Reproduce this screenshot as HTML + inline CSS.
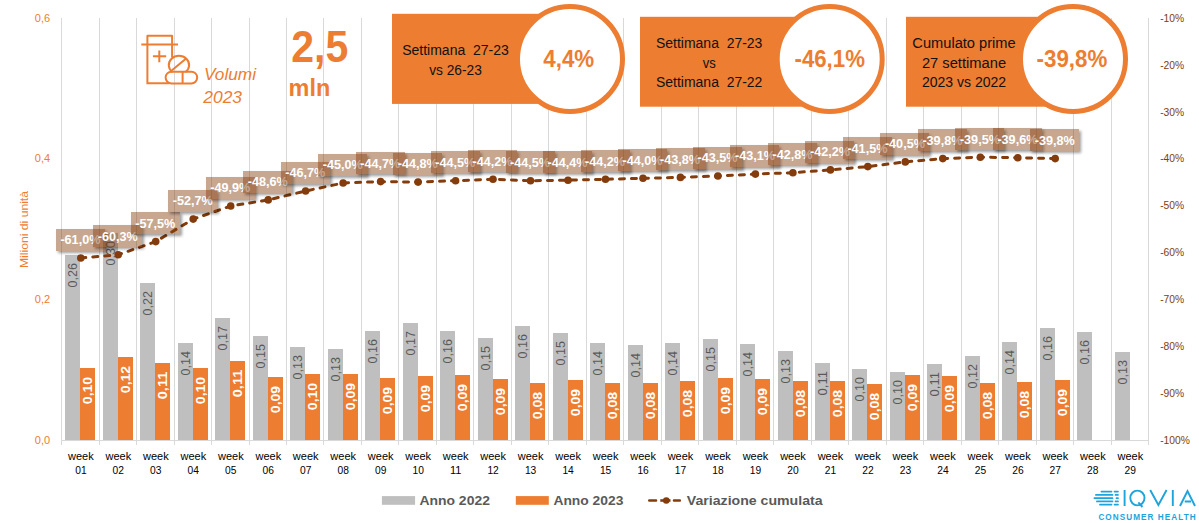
<!DOCTYPE html>
<html><head><meta charset="utf-8"><title>Volumi 2023</title>
<style>html,body{margin:0;padding:0;background:#fff}svg{display:block}text{font-family:"Liberation Sans",sans-serif}</style></head>
<body>
<svg width="1199" height="523" viewBox="0 0 1199 523">
<defs><filter id="sh" color-interpolation-filters="sRGB" x="-20%" y="-30%" width="150%" height="180%"><feComponentTransfer in="SourceAlpha" result="solid"><feFuncA type="linear" slope="20"/></feComponentTransfer><feGaussianBlur in="solid" stdDeviation="1.6"/><feOffset dx="2" dy="2"/><feComponentTransfer><feFuncA type="linear" slope="0.38"/></feComponentTransfer><feComposite operator="out" in2="solid" result="shadow"/><feMerge><feMergeNode in="shadow"/><feMergeNode in="SourceGraphic"/></feMerge></filter></defs>
<rect width="1199" height="523" fill="#fff"/>
<path d="M61.5 18.0V445M99.5 18.0V445M136.5 18.0V445M174.5 18.0V445M211.5 18.0V445M249.5 18.0V445M286.5 18.0V445M323.5 18.0V445M361.5 18.0V445M398.5 18.0V445M436.5 18.0V445M473.5 18.0V445M511.5 18.0V445M548.5 18.0V445M586.5 18.0V445M623.5 18.0V445M661.5 18.0V445M698.5 18.0V445M736.5 18.0V445M773.5 18.0V445M811.5 18.0V445M848.5 18.0V445M886.5 18.0V445M923.5 18.0V445M961.5 18.0V445M998.5 18.0V445M1036.5 18.0V445M1073.5 18.0V445M1111.5 18.0V445M1148.5 18.0V445M61 440.5H1149" stroke="#D9D9D9" stroke-width="1" fill="none"/>
<rect x="65.0" y="255.0" width="15" height="185.0" fill="#BFBFBF"/>
<rect x="80.0" y="368.0" width="15" height="72.0" fill="#ED7D31"/>
<rect x="103.0" y="233.0" width="15" height="207.0" fill="#BFBFBF"/>
<rect x="118.0" y="357.0" width="15" height="83.0" fill="#ED7D31"/>
<rect x="140.0" y="283.0" width="15" height="157.0" fill="#BFBFBF"/>
<rect x="155.0" y="363.0" width="15" height="77.0" fill="#ED7D31"/>
<rect x="178.0" y="343.0" width="15" height="97.0" fill="#BFBFBF"/>
<rect x="193.0" y="368.0" width="15" height="72.0" fill="#ED7D31"/>
<rect x="215.0" y="318.0" width="15" height="122.0" fill="#BFBFBF"/>
<rect x="230.0" y="361.0" width="15" height="79.0" fill="#ED7D31"/>
<rect x="253.0" y="336.0" width="15" height="104.0" fill="#BFBFBF"/>
<rect x="268.0" y="377.0" width="15" height="63.0" fill="#ED7D31"/>
<rect x="290.0" y="347.0" width="15" height="93.0" fill="#BFBFBF"/>
<rect x="305.0" y="374.0" width="15" height="66.0" fill="#ED7D31"/>
<rect x="328.0" y="349.0" width="15" height="91.0" fill="#BFBFBF"/>
<rect x="343.0" y="374.0" width="15" height="66.0" fill="#ED7D31"/>
<rect x="365.0" y="331.0" width="15" height="109.0" fill="#BFBFBF"/>
<rect x="380.0" y="378.0" width="15" height="62.0" fill="#ED7D31"/>
<rect x="403.0" y="323.0" width="15" height="117.0" fill="#BFBFBF"/>
<rect x="418.0" y="376.0" width="15" height="64.0" fill="#ED7D31"/>
<rect x="440.0" y="331.0" width="15" height="109.0" fill="#BFBFBF"/>
<rect x="455.0" y="375.0" width="15" height="65.0" fill="#ED7D31"/>
<rect x="478.0" y="338.0" width="15" height="102.0" fill="#BFBFBF"/>
<rect x="493.0" y="379.0" width="15" height="61.0" fill="#ED7D31"/>
<rect x="515.0" y="326.0" width="15" height="114.0" fill="#BFBFBF"/>
<rect x="530.0" y="383.0" width="15" height="57.0" fill="#ED7D31"/>
<rect x="553.0" y="333.0" width="15" height="107.0" fill="#BFBFBF"/>
<rect x="568.0" y="380.0" width="15" height="60.0" fill="#ED7D31"/>
<rect x="590.0" y="343.0" width="15" height="97.0" fill="#BFBFBF"/>
<rect x="605.0" y="383.0" width="15" height="57.0" fill="#ED7D31"/>
<rect x="628.0" y="345.0" width="15" height="95.0" fill="#BFBFBF"/>
<rect x="643.0" y="383.0" width="15" height="57.0" fill="#ED7D31"/>
<rect x="665.0" y="343.0" width="15" height="97.0" fill="#BFBFBF"/>
<rect x="680.0" y="381.0" width="15" height="59.0" fill="#ED7D31"/>
<rect x="703.0" y="339.0" width="15" height="101.0" fill="#BFBFBF"/>
<rect x="718.0" y="378.0" width="15" height="62.0" fill="#ED7D31"/>
<rect x="740.0" y="344.0" width="15" height="96.0" fill="#BFBFBF"/>
<rect x="755.0" y="379.0" width="15" height="61.0" fill="#ED7D31"/>
<rect x="778.0" y="351.0" width="15" height="89.0" fill="#BFBFBF"/>
<rect x="793.0" y="381.0" width="15" height="59.0" fill="#ED7D31"/>
<rect x="815.0" y="363.0" width="15" height="77.0" fill="#BFBFBF"/>
<rect x="830.0" y="381.0" width="15" height="59.0" fill="#ED7D31"/>
<rect x="852.0" y="369.0" width="15" height="71.0" fill="#BFBFBF"/>
<rect x="867.0" y="384.0" width="15" height="56.0" fill="#ED7D31"/>
<rect x="890.0" y="372.0" width="15" height="68.0" fill="#BFBFBF"/>
<rect x="905.0" y="375.0" width="15" height="65.0" fill="#ED7D31"/>
<rect x="927.0" y="364.0" width="15" height="76.0" fill="#BFBFBF"/>
<rect x="942.0" y="376.0" width="15" height="64.0" fill="#ED7D31"/>
<rect x="965.0" y="356.0" width="15" height="84.0" fill="#BFBFBF"/>
<rect x="980.0" y="383.0" width="15" height="57.0" fill="#ED7D31"/>
<rect x="1002.0" y="342.0" width="15" height="98.0" fill="#BFBFBF"/>
<rect x="1017.0" y="382.0" width="15" height="58.0" fill="#ED7D31"/>
<rect x="1040.0" y="328.0" width="15" height="112.0" fill="#BFBFBF"/>
<rect x="1055.0" y="380.0" width="15" height="60.0" fill="#ED7D31"/>
<rect x="1077.0" y="332.0" width="15" height="108.0" fill="#BFBFBF"/>
<rect x="1115.0" y="352.0" width="15" height="88.0" fill="#BFBFBF"/>
<text transform="translate(77.3 263.1) rotate(-90)" text-anchor="end" font-size="12.5" fill="#595959" textLength="24.4" lengthAdjust="spacingAndGlyphs">0,26</text>
<text transform="translate(92.1 376.8) rotate(-90)" text-anchor="end" font-size="13" font-weight="bold" fill="#fff" textLength="27.4" lengthAdjust="spacingAndGlyphs">0,10</text>
<text transform="translate(115.3 241.1) rotate(-90)" text-anchor="end" font-size="12.5" fill="#595959" textLength="24.4" lengthAdjust="spacingAndGlyphs">0,30</text>
<text transform="translate(130.1 365.8) rotate(-90)" text-anchor="end" font-size="13" font-weight="bold" fill="#fff" textLength="27.4" lengthAdjust="spacingAndGlyphs">0,12</text>
<text transform="translate(152.3 291.1) rotate(-90)" text-anchor="end" font-size="12.5" fill="#595959" textLength="24.4" lengthAdjust="spacingAndGlyphs">0,22</text>
<text transform="translate(167.1 371.8) rotate(-90)" text-anchor="end" font-size="13" font-weight="bold" fill="#fff" textLength="27.4" lengthAdjust="spacingAndGlyphs">0,11</text>
<text transform="translate(190.3 351.1) rotate(-90)" text-anchor="end" font-size="12.5" fill="#595959" textLength="24.4" lengthAdjust="spacingAndGlyphs">0,14</text>
<text transform="translate(205.1 376.8) rotate(-90)" text-anchor="end" font-size="13" font-weight="bold" fill="#fff" textLength="27.4" lengthAdjust="spacingAndGlyphs">0,10</text>
<text transform="translate(227.3 326.1) rotate(-90)" text-anchor="end" font-size="12.5" fill="#595959" textLength="24.4" lengthAdjust="spacingAndGlyphs">0,17</text>
<text transform="translate(242.1 369.8) rotate(-90)" text-anchor="end" font-size="13" font-weight="bold" fill="#fff" textLength="27.4" lengthAdjust="spacingAndGlyphs">0,11</text>
<text transform="translate(265.3 344.1) rotate(-90)" text-anchor="end" font-size="12.5" fill="#595959" textLength="24.4" lengthAdjust="spacingAndGlyphs">0,15</text>
<text transform="translate(280.1 385.8) rotate(-90)" text-anchor="end" font-size="13" font-weight="bold" fill="#fff" textLength="27.4" lengthAdjust="spacingAndGlyphs">0,09</text>
<text transform="translate(302.3 355.1) rotate(-90)" text-anchor="end" font-size="12.5" fill="#595959" textLength="24.4" lengthAdjust="spacingAndGlyphs">0,13</text>
<text transform="translate(317.1 382.8) rotate(-90)" text-anchor="end" font-size="13" font-weight="bold" fill="#fff" textLength="27.4" lengthAdjust="spacingAndGlyphs">0,10</text>
<text transform="translate(340.3 357.1) rotate(-90)" text-anchor="end" font-size="12.5" fill="#595959" textLength="24.4" lengthAdjust="spacingAndGlyphs">0,13</text>
<text transform="translate(355.1 382.8) rotate(-90)" text-anchor="end" font-size="13" font-weight="bold" fill="#fff" textLength="27.4" lengthAdjust="spacingAndGlyphs">0,09</text>
<text transform="translate(377.3 339.1) rotate(-90)" text-anchor="end" font-size="12.5" fill="#595959" textLength="24.4" lengthAdjust="spacingAndGlyphs">0,16</text>
<text transform="translate(392.1 386.8) rotate(-90)" text-anchor="end" font-size="13" font-weight="bold" fill="#fff" textLength="27.4" lengthAdjust="spacingAndGlyphs">0,09</text>
<text transform="translate(415.3 331.1) rotate(-90)" text-anchor="end" font-size="12.5" fill="#595959" textLength="24.4" lengthAdjust="spacingAndGlyphs">0,17</text>
<text transform="translate(430.1 384.8) rotate(-90)" text-anchor="end" font-size="13" font-weight="bold" fill="#fff" textLength="27.4" lengthAdjust="spacingAndGlyphs">0,09</text>
<text transform="translate(452.3 339.1) rotate(-90)" text-anchor="end" font-size="12.5" fill="#595959" textLength="24.4" lengthAdjust="spacingAndGlyphs">0,16</text>
<text transform="translate(467.1 383.8) rotate(-90)" text-anchor="end" font-size="13" font-weight="bold" fill="#fff" textLength="27.4" lengthAdjust="spacingAndGlyphs">0,09</text>
<text transform="translate(490.3 346.1) rotate(-90)" text-anchor="end" font-size="12.5" fill="#595959" textLength="24.4" lengthAdjust="spacingAndGlyphs">0,15</text>
<text transform="translate(505.1 387.8) rotate(-90)" text-anchor="end" font-size="13" font-weight="bold" fill="#fff" textLength="27.4" lengthAdjust="spacingAndGlyphs">0,09</text>
<text transform="translate(527.3 334.1) rotate(-90)" text-anchor="end" font-size="12.5" fill="#595959" textLength="24.4" lengthAdjust="spacingAndGlyphs">0,16</text>
<text transform="translate(542.1 391.8) rotate(-90)" text-anchor="end" font-size="13" font-weight="bold" fill="#fff" textLength="27.4" lengthAdjust="spacingAndGlyphs">0,08</text>
<text transform="translate(565.3 341.1) rotate(-90)" text-anchor="end" font-size="12.5" fill="#595959" textLength="24.4" lengthAdjust="spacingAndGlyphs">0,15</text>
<text transform="translate(580.1 388.8) rotate(-90)" text-anchor="end" font-size="13" font-weight="bold" fill="#fff" textLength="27.4" lengthAdjust="spacingAndGlyphs">0,09</text>
<text transform="translate(602.3 351.1) rotate(-90)" text-anchor="end" font-size="12.5" fill="#595959" textLength="24.4" lengthAdjust="spacingAndGlyphs">0,14</text>
<text transform="translate(617.1 391.8) rotate(-90)" text-anchor="end" font-size="13" font-weight="bold" fill="#fff" textLength="27.4" lengthAdjust="spacingAndGlyphs">0,08</text>
<text transform="translate(640.3 353.1) rotate(-90)" text-anchor="end" font-size="12.5" fill="#595959" textLength="24.4" lengthAdjust="spacingAndGlyphs">0,14</text>
<text transform="translate(655.1 391.8) rotate(-90)" text-anchor="end" font-size="13" font-weight="bold" fill="#fff" textLength="27.4" lengthAdjust="spacingAndGlyphs">0,08</text>
<text transform="translate(677.3 351.1) rotate(-90)" text-anchor="end" font-size="12.5" fill="#595959" textLength="24.4" lengthAdjust="spacingAndGlyphs">0,14</text>
<text transform="translate(692.1 389.8) rotate(-90)" text-anchor="end" font-size="13" font-weight="bold" fill="#fff" textLength="27.4" lengthAdjust="spacingAndGlyphs">0,08</text>
<text transform="translate(715.3 347.1) rotate(-90)" text-anchor="end" font-size="12.5" fill="#595959" textLength="24.4" lengthAdjust="spacingAndGlyphs">0,15</text>
<text transform="translate(730.1 386.8) rotate(-90)" text-anchor="end" font-size="13" font-weight="bold" fill="#fff" textLength="27.4" lengthAdjust="spacingAndGlyphs">0,09</text>
<text transform="translate(752.3 352.1) rotate(-90)" text-anchor="end" font-size="12.5" fill="#595959" textLength="24.4" lengthAdjust="spacingAndGlyphs">0,14</text>
<text transform="translate(767.1 387.8) rotate(-90)" text-anchor="end" font-size="13" font-weight="bold" fill="#fff" textLength="27.4" lengthAdjust="spacingAndGlyphs">0,09</text>
<text transform="translate(790.3 359.1) rotate(-90)" text-anchor="end" font-size="12.5" fill="#595959" textLength="24.4" lengthAdjust="spacingAndGlyphs">0,13</text>
<text transform="translate(805.1 389.8) rotate(-90)" text-anchor="end" font-size="13" font-weight="bold" fill="#fff" textLength="27.4" lengthAdjust="spacingAndGlyphs">0,08</text>
<text transform="translate(827.3 371.1) rotate(-90)" text-anchor="end" font-size="12.5" fill="#595959" textLength="24.4" lengthAdjust="spacingAndGlyphs">0,11</text>
<text transform="translate(842.1 389.8) rotate(-90)" text-anchor="end" font-size="13" font-weight="bold" fill="#fff" textLength="27.4" lengthAdjust="spacingAndGlyphs">0,08</text>
<text transform="translate(864.3 377.1) rotate(-90)" text-anchor="end" font-size="12.5" fill="#595959" textLength="24.4" lengthAdjust="spacingAndGlyphs">0,10</text>
<text transform="translate(879.1 392.8) rotate(-90)" text-anchor="end" font-size="13" font-weight="bold" fill="#fff" textLength="27.4" lengthAdjust="spacingAndGlyphs">0,08</text>
<text transform="translate(902.3 380.1) rotate(-90)" text-anchor="end" font-size="12.5" fill="#595959" textLength="24.4" lengthAdjust="spacingAndGlyphs">0,10</text>
<text transform="translate(917.1 383.8) rotate(-90)" text-anchor="end" font-size="13" font-weight="bold" fill="#fff" textLength="27.4" lengthAdjust="spacingAndGlyphs">0,09</text>
<text transform="translate(939.3 372.1) rotate(-90)" text-anchor="end" font-size="12.5" fill="#595959" textLength="24.4" lengthAdjust="spacingAndGlyphs">0,11</text>
<text transform="translate(954.1 384.8) rotate(-90)" text-anchor="end" font-size="13" font-weight="bold" fill="#fff" textLength="27.4" lengthAdjust="spacingAndGlyphs">0,09</text>
<text transform="translate(977.3 364.1) rotate(-90)" text-anchor="end" font-size="12.5" fill="#595959" textLength="24.4" lengthAdjust="spacingAndGlyphs">0,12</text>
<text transform="translate(992.1 391.8) rotate(-90)" text-anchor="end" font-size="13" font-weight="bold" fill="#fff" textLength="27.4" lengthAdjust="spacingAndGlyphs">0,08</text>
<text transform="translate(1014.3 350.1) rotate(-90)" text-anchor="end" font-size="12.5" fill="#595959" textLength="24.4" lengthAdjust="spacingAndGlyphs">0,14</text>
<text transform="translate(1029.1 390.8) rotate(-90)" text-anchor="end" font-size="13" font-weight="bold" fill="#fff" textLength="27.4" lengthAdjust="spacingAndGlyphs">0,08</text>
<text transform="translate(1052.3 336.1) rotate(-90)" text-anchor="end" font-size="12.5" fill="#595959" textLength="24.4" lengthAdjust="spacingAndGlyphs">0,16</text>
<text transform="translate(1067.1 388.8) rotate(-90)" text-anchor="end" font-size="13" font-weight="bold" fill="#fff" textLength="27.4" lengthAdjust="spacingAndGlyphs">0,09</text>
<text transform="translate(1089.3 340.1) rotate(-90)" text-anchor="end" font-size="12.5" fill="#595959" textLength="24.4" lengthAdjust="spacingAndGlyphs">0,16</text>
<text transform="translate(1127.3 360.1) rotate(-90)" text-anchor="end" font-size="12.5" fill="#595959" textLength="24.4" lengthAdjust="spacingAndGlyphs">0,13</text>
<rect x="392" y="13.8" width="178" height="90.10000000000001" fill="#ED7D31"/>
<circle cx="570" cy="59" r="52.5" fill="#fff" stroke="#ED7D31" stroke-width="5"/>
<text x="455.5" y="54.8" text-anchor="middle" font-size="14" fill="#111" textLength="106.7" lengthAdjust="spacingAndGlyphs">Settimana&#160; 27-23</text>
<text x="455.5" y="75.3" text-anchor="middle" font-size="14" fill="#111" textLength="52.7" lengthAdjust="spacingAndGlyphs">vs 26-23</text>
<text x="543.3" y="67.1" font-size="24.6" font-weight="bold" fill="#ED7D31" textLength="50.9" lengthAdjust="spacingAndGlyphs">4,4%</text>
<rect x="640" y="16.8" width="189.70000000000005" height="89.9" fill="#ED7D31"/>
<circle cx="829.7" cy="59" r="52.5" fill="#fff" stroke="#ED7D31" stroke-width="5"/>
<text x="709.2" y="47.8" text-anchor="middle" font-size="14" fill="#111" textLength="106.3" lengthAdjust="spacingAndGlyphs">Settimana&#160; 27-23</text>
<text x="709.2" y="67.8" text-anchor="middle" font-size="14" fill="#111" textLength="13" lengthAdjust="spacingAndGlyphs">vs</text>
<text x="709.2" y="86.8" text-anchor="middle" font-size="14" fill="#111" textLength="106.3" lengthAdjust="spacingAndGlyphs">Settimana&#160; 27-22</text>
<text x="794.5" y="67.1" font-size="24.6" font-weight="bold" fill="#ED7D31" textLength="70.4" lengthAdjust="spacingAndGlyphs">-46,1%</text>
<rect x="906" y="16.8" width="167" height="89.9" fill="#ED7D31"/>
<circle cx="1073" cy="59" r="52.5" fill="#fff" stroke="#ED7D31" stroke-width="5"/>
<text x="964" y="47.8" text-anchor="middle" font-size="14" fill="#111" textLength="103.3" lengthAdjust="spacingAndGlyphs">Cumulato prime</text>
<text x="964" y="67.8" text-anchor="middle" font-size="14" fill="#111" textLength="84.2" lengthAdjust="spacingAndGlyphs">27 settimane</text>
<text x="964" y="86.8" text-anchor="middle" font-size="14" fill="#111" textLength="84.2" lengthAdjust="spacingAndGlyphs">2023 vs 2022</text>
<text x="1036.6" y="67.1" font-size="24.6" font-weight="bold" fill="#ED7D31" textLength="70.7" lengthAdjust="spacingAndGlyphs">-39,8%</text>
<path d="M80.8 258.0L118.2 254.8L155.7 241.6L193.2 219.1L230.7 206.0L268.2 199.9L305.6 191.0L343.1 183.0L380.6 181.6L418.1 182.1L455.6 180.7L493.0 179.3L530.5 180.7L568.0 180.2L605.5 179.3L643.0 178.3L680.4 177.4L717.9 176.0L755.4 174.1L792.9 172.7L830.4 169.9L867.8 166.6L905.3 161.9L942.8 158.6L980.3 157.2L1017.8 157.7L1055.2 158.6" fill="none" stroke="#843C0C" stroke-width="3" stroke-dasharray="5 7" stroke-linecap="round" stroke-linejoin="round"/>
<circle cx="80.8" cy="258.0" r="3.8" fill="#843C0C"/>
<circle cx="118.2" cy="254.8" r="3.8" fill="#843C0C"/>
<circle cx="155.7" cy="241.6" r="3.8" fill="#843C0C"/>
<circle cx="193.2" cy="219.1" r="3.8" fill="#843C0C"/>
<circle cx="230.7" cy="206.0" r="3.8" fill="#843C0C"/>
<circle cx="268.2" cy="199.9" r="3.8" fill="#843C0C"/>
<circle cx="305.6" cy="191.0" r="3.8" fill="#843C0C"/>
<circle cx="343.1" cy="183.0" r="3.8" fill="#843C0C"/>
<circle cx="380.6" cy="181.6" r="3.8" fill="#843C0C"/>
<circle cx="418.1" cy="182.1" r="3.8" fill="#843C0C"/>
<circle cx="455.6" cy="180.7" r="3.8" fill="#843C0C"/>
<circle cx="493.0" cy="179.3" r="3.8" fill="#843C0C"/>
<circle cx="530.5" cy="180.7" r="3.8" fill="#843C0C"/>
<circle cx="568.0" cy="180.2" r="3.8" fill="#843C0C"/>
<circle cx="605.5" cy="179.3" r="3.8" fill="#843C0C"/>
<circle cx="643.0" cy="178.3" r="3.8" fill="#843C0C"/>
<circle cx="680.4" cy="177.4" r="3.8" fill="#843C0C"/>
<circle cx="717.9" cy="176.0" r="3.8" fill="#843C0C"/>
<circle cx="755.4" cy="174.1" r="3.8" fill="#843C0C"/>
<circle cx="792.9" cy="172.7" r="3.8" fill="#843C0C"/>
<circle cx="830.4" cy="169.9" r="3.8" fill="#843C0C"/>
<circle cx="867.8" cy="166.6" r="3.8" fill="#843C0C"/>
<circle cx="905.3" cy="161.9" r="3.8" fill="#843C0C"/>
<circle cx="942.8" cy="158.6" r="3.8" fill="#843C0C"/>
<circle cx="980.3" cy="157.2" r="3.8" fill="#843C0C"/>
<circle cx="1017.8" cy="157.7" r="3.8" fill="#843C0C"/>
<circle cx="1055.2" cy="158.6" r="3.8" fill="#843C0C"/>
<rect x="56" y="229" width="49" height="22" fill="#843C0C" fill-opacity="0.45" filter="url(#sh)"/>
<text x="80.4" y="244.3" text-anchor="middle" font-size="13" font-weight="bold" fill="#fff" textLength="40" lengthAdjust="spacingAndGlyphs">-61,0%</text>
<rect x="93" y="225" width="49" height="22" fill="#843C0C" fill-opacity="0.45" filter="url(#sh)"/>
<text x="117.8" y="241.1" text-anchor="middle" font-size="13" font-weight="bold" fill="#fff" textLength="40" lengthAdjust="spacingAndGlyphs">-60,3%</text>
<rect x="131" y="212" width="49" height="22" fill="#843C0C" fill-opacity="0.45" filter="url(#sh)"/>
<text x="155.3" y="227.9" text-anchor="middle" font-size="13" font-weight="bold" fill="#fff" textLength="40" lengthAdjust="spacingAndGlyphs">-57,5%</text>
<rect x="168" y="190" width="49" height="22" fill="#843C0C" fill-opacity="0.45" filter="url(#sh)"/>
<text x="192.8" y="205.4" text-anchor="middle" font-size="13" font-weight="bold" fill="#fff" textLength="40" lengthAdjust="spacingAndGlyphs">-52,7%</text>
<rect x="206" y="177" width="49" height="22" fill="#843C0C" fill-opacity="0.45" filter="url(#sh)"/>
<text x="230.3" y="192.3" text-anchor="middle" font-size="13" font-weight="bold" fill="#fff" textLength="40" lengthAdjust="spacingAndGlyphs">-49,9%</text>
<rect x="243" y="171" width="49" height="22" fill="#843C0C" fill-opacity="0.45" filter="url(#sh)"/>
<text x="267.8" y="186.2" text-anchor="middle" font-size="13" font-weight="bold" fill="#fff" textLength="40" lengthAdjust="spacingAndGlyphs">-48,6%</text>
<rect x="281" y="162" width="49" height="22" fill="#843C0C" fill-opacity="0.45" filter="url(#sh)"/>
<text x="305.2" y="177.3" text-anchor="middle" font-size="13" font-weight="bold" fill="#fff" textLength="40" lengthAdjust="spacingAndGlyphs">-46,7%</text>
<rect x="318" y="154" width="49" height="22" fill="#843C0C" fill-opacity="0.45" filter="url(#sh)"/>
<text x="342.7" y="169.3" text-anchor="middle" font-size="13" font-weight="bold" fill="#fff" textLength="40" lengthAdjust="spacingAndGlyphs">-45,0%</text>
<rect x="356" y="152" width="49" height="22" fill="#843C0C" fill-opacity="0.45" filter="url(#sh)"/>
<text x="380.2" y="167.9" text-anchor="middle" font-size="13" font-weight="bold" fill="#fff" textLength="40" lengthAdjust="spacingAndGlyphs">-44,7%</text>
<rect x="393" y="153" width="49" height="22" fill="#843C0C" fill-opacity="0.45" filter="url(#sh)"/>
<text x="417.7" y="168.4" text-anchor="middle" font-size="13" font-weight="bold" fill="#fff" textLength="40" lengthAdjust="spacingAndGlyphs">-44,8%</text>
<rect x="431" y="151" width="49" height="22" fill="#843C0C" fill-opacity="0.45" filter="url(#sh)"/>
<text x="455.2" y="167.0" text-anchor="middle" font-size="13" font-weight="bold" fill="#fff" textLength="40" lengthAdjust="spacingAndGlyphs">-44,5%</text>
<rect x="468" y="150" width="49" height="22" fill="#843C0C" fill-opacity="0.45" filter="url(#sh)"/>
<text x="492.6" y="165.6" text-anchor="middle" font-size="13" font-weight="bold" fill="#fff" textLength="40" lengthAdjust="spacingAndGlyphs">-44,2%</text>
<rect x="506" y="151" width="49" height="22" fill="#843C0C" fill-opacity="0.45" filter="url(#sh)"/>
<text x="530.1" y="167.0" text-anchor="middle" font-size="13" font-weight="bold" fill="#fff" textLength="40" lengthAdjust="spacingAndGlyphs">-44,5%</text>
<rect x="543" y="151" width="49" height="22" fill="#843C0C" fill-opacity="0.45" filter="url(#sh)"/>
<text x="567.6" y="166.5" text-anchor="middle" font-size="13" font-weight="bold" fill="#fff" textLength="40" lengthAdjust="spacingAndGlyphs">-44,4%</text>
<rect x="581" y="150" width="49" height="22" fill="#843C0C" fill-opacity="0.45" filter="url(#sh)"/>
<text x="605.1" y="165.6" text-anchor="middle" font-size="13" font-weight="bold" fill="#fff" textLength="40" lengthAdjust="spacingAndGlyphs">-44,2%</text>
<rect x="618" y="149" width="49" height="22" fill="#843C0C" fill-opacity="0.45" filter="url(#sh)"/>
<text x="642.6" y="164.6" text-anchor="middle" font-size="13" font-weight="bold" fill="#fff" textLength="40" lengthAdjust="spacingAndGlyphs">-44,0%</text>
<rect x="656" y="148" width="49" height="22" fill="#843C0C" fill-opacity="0.45" filter="url(#sh)"/>
<text x="680.0" y="163.7" text-anchor="middle" font-size="13" font-weight="bold" fill="#fff" textLength="40" lengthAdjust="spacingAndGlyphs">-43,8%</text>
<rect x="693" y="147" width="49" height="22" fill="#843C0C" fill-opacity="0.45" filter="url(#sh)"/>
<text x="717.5" y="162.3" text-anchor="middle" font-size="13" font-weight="bold" fill="#fff" textLength="40" lengthAdjust="spacingAndGlyphs">-43,5%</text>
<rect x="730" y="145" width="49" height="22" fill="#843C0C" fill-opacity="0.45" filter="url(#sh)"/>
<text x="755.0" y="160.4" text-anchor="middle" font-size="13" font-weight="bold" fill="#fff" textLength="40" lengthAdjust="spacingAndGlyphs">-43,1%</text>
<rect x="768" y="143" width="49" height="22" fill="#843C0C" fill-opacity="0.45" filter="url(#sh)"/>
<text x="792.5" y="159.0" text-anchor="middle" font-size="13" font-weight="bold" fill="#fff" textLength="40" lengthAdjust="spacingAndGlyphs">-42,8%</text>
<rect x="805" y="141" width="49" height="22" fill="#843C0C" fill-opacity="0.45" filter="url(#sh)"/>
<text x="830.0" y="156.2" text-anchor="middle" font-size="13" font-weight="bold" fill="#fff" textLength="40" lengthAdjust="spacingAndGlyphs">-42,2%</text>
<rect x="843" y="137" width="49" height="22" fill="#843C0C" fill-opacity="0.45" filter="url(#sh)"/>
<text x="867.4" y="152.9" text-anchor="middle" font-size="13" font-weight="bold" fill="#fff" textLength="40" lengthAdjust="spacingAndGlyphs">-41,5%</text>
<rect x="880" y="133" width="49" height="22" fill="#843C0C" fill-opacity="0.45" filter="url(#sh)"/>
<text x="904.9" y="148.2" text-anchor="middle" font-size="13" font-weight="bold" fill="#fff" textLength="40" lengthAdjust="spacingAndGlyphs">-40,5%</text>
<rect x="918" y="129" width="49" height="22" fill="#843C0C" fill-opacity="0.45" filter="url(#sh)"/>
<text x="942.4" y="144.9" text-anchor="middle" font-size="13" font-weight="bold" fill="#fff" textLength="40" lengthAdjust="spacingAndGlyphs">-39,8%</text>
<rect x="955" y="128" width="49" height="22" fill="#843C0C" fill-opacity="0.45" filter="url(#sh)"/>
<text x="979.9" y="143.5" text-anchor="middle" font-size="13" font-weight="bold" fill="#fff" textLength="40" lengthAdjust="spacingAndGlyphs">-39,5%</text>
<rect x="993" y="128" width="49" height="22" fill="#843C0C" fill-opacity="0.45" filter="url(#sh)"/>
<text x="1017.4" y="144.0" text-anchor="middle" font-size="13" font-weight="bold" fill="#fff" textLength="40" lengthAdjust="spacingAndGlyphs">-39,6%</text>
<rect x="1030" y="129" width="49" height="22" fill="#843C0C" fill-opacity="0.45" filter="url(#sh)"/>
<text x="1054.8" y="144.9" text-anchor="middle" font-size="13" font-weight="bold" fill="#fff" textLength="40" lengthAdjust="spacingAndGlyphs">-39,8%</text>
<text x="50.1" y="444.0" text-anchor="end" font-size="11" fill="#ED7D31">0,0</text>
<text x="50.1" y="303.3" text-anchor="end" font-size="11" fill="#ED7D31">0,2</text>
<text x="50.1" y="161.8" text-anchor="end" font-size="11" fill="#ED7D31">0,4</text>
<text x="50.1" y="22.0" text-anchor="end" font-size="11" fill="#ED7D31">0,6</text>
<text x="1160.2" y="22.0" font-size="11" fill="#843C0C" textLength="24.1" lengthAdjust="spacingAndGlyphs">-10%</text>
<text x="1160.2" y="68.9" font-size="11" fill="#843C0C" textLength="24.1" lengthAdjust="spacingAndGlyphs">-20%</text>
<text x="1160.2" y="115.8" font-size="11" fill="#843C0C" textLength="24.1" lengthAdjust="spacingAndGlyphs">-30%</text>
<text x="1160.2" y="161.8" font-size="11" fill="#843C0C" textLength="24.1" lengthAdjust="spacingAndGlyphs">-40%</text>
<text x="1160.2" y="209.2" font-size="11" fill="#843C0C" textLength="24.1" lengthAdjust="spacingAndGlyphs">-50%</text>
<text x="1160.2" y="256.4" font-size="11" fill="#843C0C" textLength="24.1" lengthAdjust="spacingAndGlyphs">-60%</text>
<text x="1160.2" y="303.3" font-size="11" fill="#843C0C" textLength="24.1" lengthAdjust="spacingAndGlyphs">-70%</text>
<text x="1160.2" y="350.2" font-size="11" fill="#843C0C" textLength="24.1" lengthAdjust="spacingAndGlyphs">-80%</text>
<text x="1160.2" y="397.1" font-size="11" fill="#843C0C" textLength="24.1" lengthAdjust="spacingAndGlyphs">-90%</text>
<text x="1160.2" y="444.0" font-size="11" fill="#843C0C" textLength="29.8" lengthAdjust="spacingAndGlyphs">-100%</text>
<text transform="translate(27.5 229.5) rotate(-90)" text-anchor="middle" font-size="11" fill="#ED7D31" textLength="77" lengthAdjust="spacingAndGlyphs">Milioni di unità</text>
<text x="80.9" y="460.2" text-anchor="middle" font-size="11" fill="#000">week</text>
<text x="80.9" y="474.3" text-anchor="middle" font-size="11" fill="#000" textLength="11.4" lengthAdjust="spacingAndGlyphs">01</text>
<text x="118.3" y="460.2" text-anchor="middle" font-size="11" fill="#000">week</text>
<text x="118.3" y="474.3" text-anchor="middle" font-size="11" fill="#000" textLength="11.4" lengthAdjust="spacingAndGlyphs">02</text>
<text x="155.8" y="460.2" text-anchor="middle" font-size="11" fill="#000">week</text>
<text x="155.8" y="474.3" text-anchor="middle" font-size="11" fill="#000" textLength="11.4" lengthAdjust="spacingAndGlyphs">03</text>
<text x="193.3" y="460.2" text-anchor="middle" font-size="11" fill="#000">week</text>
<text x="193.3" y="474.3" text-anchor="middle" font-size="11" fill="#000" textLength="11.4" lengthAdjust="spacingAndGlyphs">04</text>
<text x="230.8" y="460.2" text-anchor="middle" font-size="11" fill="#000">week</text>
<text x="230.8" y="474.3" text-anchor="middle" font-size="11" fill="#000" textLength="11.4" lengthAdjust="spacingAndGlyphs">05</text>
<text x="268.3" y="460.2" text-anchor="middle" font-size="11" fill="#000">week</text>
<text x="268.3" y="474.3" text-anchor="middle" font-size="11" fill="#000" textLength="11.4" lengthAdjust="spacingAndGlyphs">06</text>
<text x="305.7" y="460.2" text-anchor="middle" font-size="11" fill="#000">week</text>
<text x="305.7" y="474.3" text-anchor="middle" font-size="11" fill="#000" textLength="11.4" lengthAdjust="spacingAndGlyphs">07</text>
<text x="343.2" y="460.2" text-anchor="middle" font-size="11" fill="#000">week</text>
<text x="343.2" y="474.3" text-anchor="middle" font-size="11" fill="#000" textLength="11.4" lengthAdjust="spacingAndGlyphs">08</text>
<text x="380.7" y="460.2" text-anchor="middle" font-size="11" fill="#000">week</text>
<text x="380.7" y="474.3" text-anchor="middle" font-size="11" fill="#000" textLength="11.4" lengthAdjust="spacingAndGlyphs">09</text>
<text x="418.2" y="460.2" text-anchor="middle" font-size="11" fill="#000">week</text>
<text x="418.2" y="474.3" text-anchor="middle" font-size="11" fill="#000" textLength="11.4" lengthAdjust="spacingAndGlyphs">10</text>
<text x="455.7" y="460.2" text-anchor="middle" font-size="11" fill="#000">week</text>
<text x="455.7" y="474.3" text-anchor="middle" font-size="11" fill="#000" textLength="11.4" lengthAdjust="spacingAndGlyphs">11</text>
<text x="493.1" y="460.2" text-anchor="middle" font-size="11" fill="#000">week</text>
<text x="493.1" y="474.3" text-anchor="middle" font-size="11" fill="#000" textLength="11.4" lengthAdjust="spacingAndGlyphs">12</text>
<text x="530.6" y="460.2" text-anchor="middle" font-size="11" fill="#000">week</text>
<text x="530.6" y="474.3" text-anchor="middle" font-size="11" fill="#000" textLength="11.4" lengthAdjust="spacingAndGlyphs">13</text>
<text x="568.1" y="460.2" text-anchor="middle" font-size="11" fill="#000">week</text>
<text x="568.1" y="474.3" text-anchor="middle" font-size="11" fill="#000" textLength="11.4" lengthAdjust="spacingAndGlyphs">14</text>
<text x="605.6" y="460.2" text-anchor="middle" font-size="11" fill="#000">week</text>
<text x="605.6" y="474.3" text-anchor="middle" font-size="11" fill="#000" textLength="11.4" lengthAdjust="spacingAndGlyphs">15</text>
<text x="643.1" y="460.2" text-anchor="middle" font-size="11" fill="#000">week</text>
<text x="643.1" y="474.3" text-anchor="middle" font-size="11" fill="#000" textLength="11.4" lengthAdjust="spacingAndGlyphs">16</text>
<text x="680.5" y="460.2" text-anchor="middle" font-size="11" fill="#000">week</text>
<text x="680.5" y="474.3" text-anchor="middle" font-size="11" fill="#000" textLength="11.4" lengthAdjust="spacingAndGlyphs">17</text>
<text x="718.0" y="460.2" text-anchor="middle" font-size="11" fill="#000">week</text>
<text x="718.0" y="474.3" text-anchor="middle" font-size="11" fill="#000" textLength="11.4" lengthAdjust="spacingAndGlyphs">18</text>
<text x="755.5" y="460.2" text-anchor="middle" font-size="11" fill="#000">week</text>
<text x="755.5" y="474.3" text-anchor="middle" font-size="11" fill="#000" textLength="11.4" lengthAdjust="spacingAndGlyphs">19</text>
<text x="793.0" y="460.2" text-anchor="middle" font-size="11" fill="#000">week</text>
<text x="793.0" y="474.3" text-anchor="middle" font-size="11" fill="#000" textLength="11.4" lengthAdjust="spacingAndGlyphs">20</text>
<text x="830.5" y="460.2" text-anchor="middle" font-size="11" fill="#000">week</text>
<text x="830.5" y="474.3" text-anchor="middle" font-size="11" fill="#000" textLength="11.4" lengthAdjust="spacingAndGlyphs">21</text>
<text x="867.9" y="460.2" text-anchor="middle" font-size="11" fill="#000">week</text>
<text x="867.9" y="474.3" text-anchor="middle" font-size="11" fill="#000" textLength="11.4" lengthAdjust="spacingAndGlyphs">22</text>
<text x="905.4" y="460.2" text-anchor="middle" font-size="11" fill="#000">week</text>
<text x="905.4" y="474.3" text-anchor="middle" font-size="11" fill="#000" textLength="11.4" lengthAdjust="spacingAndGlyphs">23</text>
<text x="942.9" y="460.2" text-anchor="middle" font-size="11" fill="#000">week</text>
<text x="942.9" y="474.3" text-anchor="middle" font-size="11" fill="#000" textLength="11.4" lengthAdjust="spacingAndGlyphs">24</text>
<text x="980.4" y="460.2" text-anchor="middle" font-size="11" fill="#000">week</text>
<text x="980.4" y="474.3" text-anchor="middle" font-size="11" fill="#000" textLength="11.4" lengthAdjust="spacingAndGlyphs">25</text>
<text x="1017.9" y="460.2" text-anchor="middle" font-size="11" fill="#000">week</text>
<text x="1017.9" y="474.3" text-anchor="middle" font-size="11" fill="#000" textLength="11.4" lengthAdjust="spacingAndGlyphs">26</text>
<text x="1055.3" y="460.2" text-anchor="middle" font-size="11" fill="#000">week</text>
<text x="1055.3" y="474.3" text-anchor="middle" font-size="11" fill="#000" textLength="11.4" lengthAdjust="spacingAndGlyphs">27</text>
<text x="1092.8" y="460.2" text-anchor="middle" font-size="11" fill="#000">week</text>
<text x="1092.8" y="474.3" text-anchor="middle" font-size="11" fill="#000" textLength="11.4" lengthAdjust="spacingAndGlyphs">28</text>
<text x="1130.3" y="460.2" text-anchor="middle" font-size="11" fill="#000">week</text>
<text x="1130.3" y="474.3" text-anchor="middle" font-size="11" fill="#000" textLength="11.4" lengthAdjust="spacingAndGlyphs">29</text>
<rect x="381.9" y="496.1" width="33.2" height="8.7" fill="#BFBFBF"/>
<text x="419.4" y="504.8" font-size="13" font-weight="bold" fill="#595959" textLength="70.5" lengthAdjust="spacingAndGlyphs">Anno 2022</text>
<rect x="515.8" y="496.1" width="33" height="8.7" fill="#ED7D31"/>
<text x="553.4" y="504.8" font-size="13" font-weight="bold" fill="#595959" textLength="70" lengthAdjust="spacingAndGlyphs">Anno 2023</text>
<path d="M649.3 500.5H656M674 500.5H679.8" stroke="#843C0C" stroke-width="2.6" stroke-linecap="round"/><path d="M660.3 500.5H670.5" stroke="#843C0C" stroke-width="2.6"/><circle cx="666.3" cy="500.5" r="3.3" fill="#843C0C"/>
<text x="686.8" y="504.8" font-size="13" font-weight="bold" fill="#595959" textLength="135.8" lengthAdjust="spacingAndGlyphs">Variazione cumulata</text>
<g fill="none" stroke="#ED7D31" stroke-width="2" stroke-linejoin="round"><path d="M147.4 83.3V35.7H172.1V57.4M141.3 44.6H178M146.4 83.3H169M152.9 56.2H166.2M159.3 50.4V62.3"/><path d="M172.6 72.3A10.15 9.25 0 1 1 185.3 72.3M172 70.2L186.1 58.4"/><rect x="165.6" y="71.7" width="31.6" height="11.7" rx="5.85"/><path d="M182.6 71.7V83.4"/></g>
<text x="204" y="80.3" font-size="16.5" font-style="italic" fill="#ED7D31" textLength="52" lengthAdjust="spacingAndGlyphs">Volumi</text>
<text x="203.3" y="103" font-size="16.5" font-style="italic" fill="#ED7D31" textLength="38.7" lengthAdjust="spacingAndGlyphs">2023</text>
<text x="291.3" y="61.8" font-size="45" font-weight="bold" fill="#ED7D31" textLength="57" lengthAdjust="spacingAndGlyphs">2,5</text>
<text x="288.6" y="95.6" font-size="24" font-weight="bold" fill="#ED7D31" textLength="41.6" lengthAdjust="spacingAndGlyphs">mln</text>
<g fill="none" stroke="#1DA4DC" stroke-width="1.7" stroke-linecap="round"><path d="M1101.4 491.6H1111.5M1095.9 494.9H1112.5M1094.4 498.2H1112.5M1096.9 501.4H1112.5M1099.9 504.6H1111.5" /><path d="M1114.5 491.6H1118M1115.5 494.9H1118M1116.5 498.2H1118M1115.5 501.4H1118M1114.5 504.6H1118" /></g>
<g fill="none" stroke="#1DA4DC" stroke-width="1.9"><path d="M1124.6 490V506"/><ellipse cx="1137.4" cy="498" rx="7.1" ry="7.4"/><path d="M1138.3 502.3L1142.5 507"/><path d="M1150.2 490L1158.4 505L1166.6 490"/><path d="M1172.8 490V506"/><path d="M1180 506L1187.5 491L1195 506M1184.7 501.5H1191"/></g>
<text x="1098.4" y="519.6" font-size="8.2" font-weight="bold" fill="#1DA4DC" textLength="97.2" lengthAdjust="spacing">CONSUMER HEALTH</text>
</svg></body></html>
